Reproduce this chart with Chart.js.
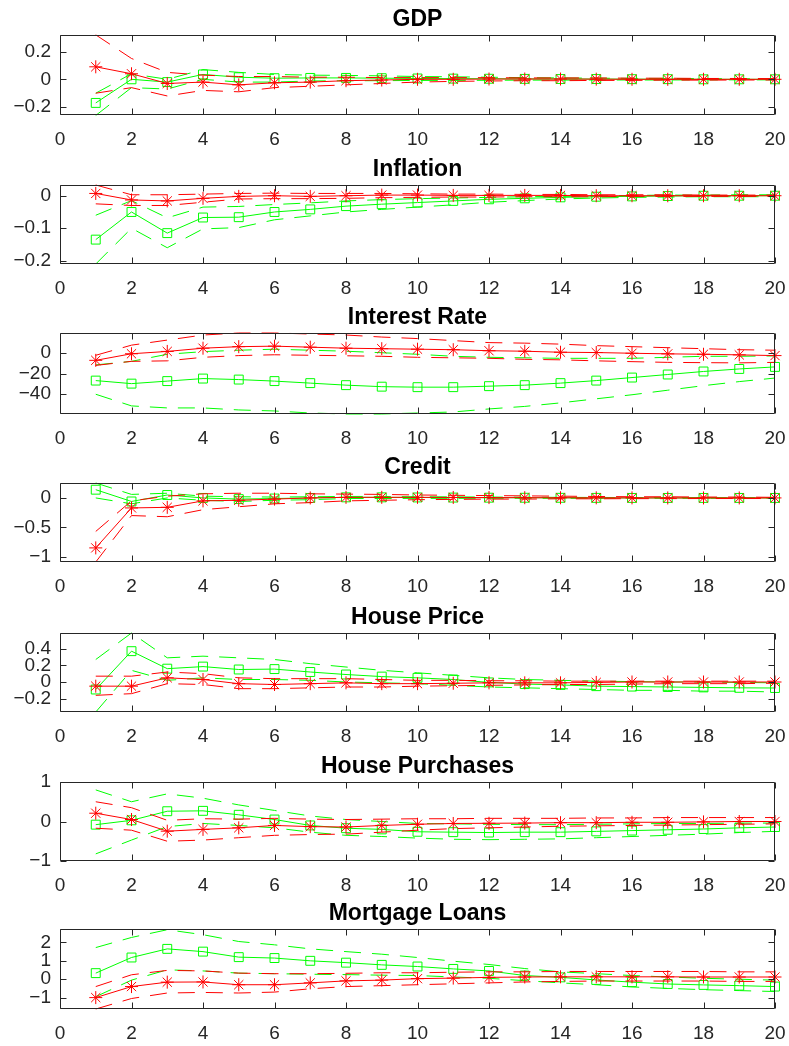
<!DOCTYPE html>
<html>
<head>
<meta charset="utf-8">
<script src="https://cdn.jsdelivr.net/npm/chart.js@4.4.1/dist/chart.umd.min.js"></script>
<style>
  html, body { margin: 0; padding: 0; background: #ffffff; }
  #fig { position: relative; width: 789px; height: 1046px; overflow: hidden; }
  #fig canvas { position: absolute; left: 0; }
</style>
</head>
<body>
<div id="fig"></div>
<script>
// Horizons and tick labels shared by every panel
const steps = [1, 2, 3, 4, 5, 6, 7, 8, 9, 10, 11, 12, 13, 14, 15, 16, 17, 18, 19, 20];
const xTicks = [0, 2, 4, 6, 8, 10, 12, 14, 16, 18, 20];

// GDP
const gdpRed     = [0.09, 0.04, -0.03, -0.02, -0.04, -0.025, -0.02, -0.01, -0.005, 0, 0, 0.002, 0.002, 0.002, 0.001, 0, 0, 0, 0, 0];
const gdpRedUp   = [0.32, 0.15, 0.05, 0.03, 0.02, 0.02, 0.015, 0.015, 0.012, 0.012, 0.012, 0.012, 0.01, 0.01, 0.01, 0.008, 0.008, 0.006, 0.006, 0.005];
const gdpRedLo   = [-0.1, -0.06, -0.12, -0.08, -0.09, -0.06, -0.05, -0.04, -0.03, -0.02, -0.015, -0.012, -0.01, -0.01, -0.008, -0.008, -0.006, -0.006, -0.005, -0.005];
const gdpGreen   = [-0.17, 0.0, -0.02, 0.035, 0.015, 0.008, 0.01, 0.01, 0.008, 0.006, 0.005, 0.004, 0.003, 0.002, 0.002, 0.001, 0.001, 0, 0, 0];
const gdpGreenUp = [-0.1, 0.04, 0.0, 0.07, 0.05, 0.035, 0.03, 0.028, 0.025, 0.02, 0.018, 0.015, 0.012, 0.01, 0.008, 0.007, 0.006, 0.005, 0.004, 0.004];
const gdpGreenLo = [-0.26, -0.06, -0.07, 0.0, -0.02, -0.02, -0.012, -0.01, -0.01, -0.008, -0.008, -0.007, -0.006, -0.006, -0.005, -0.005, -0.005, -0.004, -0.004, -0.004];
const gdpTicks   = [-0.2, 0, 0.2];

// Inflation
const infRed     = [0.007, -0.013, -0.016, -0.008, -0.002, 0.0, -0.002, 0.0, 0.002, 0.002, 0.001, 0.001, 0.001, 0.001, 0, 0, 0, 0, 0, 0];
const infRedUp   = [0.033, 0.003, 0.003, 0.005, 0.007, 0.008, 0.007, 0.007, 0.007, 0.006, 0.005, 0.005, 0.004, 0.004, 0.003, 0.003, 0.003, 0.002, 0.002, 0.002];
const infRedLo   = [-0.025, -0.03, -0.03, -0.02, -0.01, -0.009, -0.009, -0.008, -0.006, -0.005, -0.004, -0.004, -0.003, -0.003, -0.003, -0.002, -0.002, -0.002, -0.002, -0.002];
const infGreen   = [-0.135, -0.05, -0.115, -0.067, -0.066, -0.05, -0.042, -0.032, -0.026, -0.021, -0.016, -0.011, -0.008, -0.005, -0.003, -0.002, -0.001, 0, 0, 0];
const infGreenUp = [-0.06, -0.015, -0.068, -0.035, -0.033, -0.027, -0.022, -0.016, -0.012, -0.009, -0.007, -0.005, -0.003, -0.002, -0.001, 0.001, 0.002, 0.002, 0.003, 0.003];
const infGreenLo = [-0.21, -0.1, -0.16, -0.102, -0.098, -0.074, -0.062, -0.05, -0.042, -0.035, -0.028, -0.02, -0.015, -0.01, -0.007, -0.005, -0.004, -0.003, -0.003, -0.003];
const infTicks   = [-0.2, -0.1, 0];

// Interest Rate
const irRed      = [-7, -0.5, 1.8, 5, 6.5, 7, 6, 5, 4.5, 4, 3.5, 2.5, 2, 1, 0.7, 0, -0.6, -1, -1.6, -2.3];
const irRedUp    = [-2, 8, 13, 18, 20, 20, 19, 18, 16, 14.5, 12.5, 10.5, 10, 9, 7.5, 6.5, 5.5, 4.5, 3.5, 3];
const irRedLo    = [-12, -8, -7.5, -4, -2.3, -1.5, -2, -2.5, -3, -4, -4.5, -5, -6, -6.5, -7.5, -8.3, -9, -9.3, -9.5, -9];
const irGreen    = [-27, -30, -27.5, -25, -26, -27.5, -29.5, -31.5, -33, -33.5, -33.5, -32.5, -31.5, -29.5, -27, -24, -21, -18, -15.5, -13.5];
const irGreenUp  = [-11.5, -8, -1, 1.6, 3, 4, 3, 2, 0.5, -1, -3, -4, -4.5, -5, -5, -5, -4, -3, -3, -2.6];
const irGreenLo  = [-40.5, -52, -54, -54, -56, -57, -59, -60, -60, -59, -58, -55, -52.5, -49, -45, -41, -36.5, -32, -28, -24.5];
const irTicks    = [-40, -20, 0];

// Credit
const crRed      = [-0.85, -0.17, -0.16, -0.05, -0.04, -0.02, 0.0, 0.01, 0.01, 0.01, 0.008, 0.006, 0.004, 0.003, 0.002, 0.001, 0, 0, 0, 0];
const crRedUp    = [-0.57, -0.05, 0.03, 0.07, 0.08, 0.08, 0.07, 0.065, 0.06, 0.05, 0.045, 0.04, 0.035, 0.03, 0.025, 0.02, 0.02, 0.015, 0.015, 0.01];
const crRedLo    = [-1.09, -0.3, -0.32, -0.2, -0.15, -0.1, -0.08, -0.05, -0.04, -0.03, -0.025, -0.02, -0.02, -0.015, -0.015, -0.012, -0.012, -0.01, -0.01, -0.01];
const crGreen    = [0.14, -0.06, 0.05, 0.0, -0.02, -0.01, 0.0, 0.01, 0.01, 0.008, 0.006, 0.004, 0.003, 0.002, 0.001, 0, 0, 0, 0, 0];
const crGreenUp  = [0.254, 0.06, 0.08, 0.03, 0.02, 0.015, 0.02, 0.025, 0.025, 0.02, 0.018, 0.015, 0.012, 0.01, 0.008, 0.007, 0.006, 0.005, 0.004, 0.004];
const crGreenLo  = [0.0, -0.1, 0.0, -0.04, -0.06, -0.04, -0.03, -0.01, -0.01, -0.008, -0.007, -0.007, -0.006, -0.006, -0.005, -0.005, -0.005, -0.004, -0.004, -0.004];
const crTicks    = [-1, -0.5, 0];

// House Price
const hpRed      = [-0.05, -0.05, 0.05, 0.03, -0.02, -0.03, -0.02, -0.01, -0.02, -0.02, -0.015, -0.01, -0.01, -0.01, -0.005, 0, 0, 0, 0, 0];
const hpRedUp    = [0.07, 0.07, 0.12, 0.1, 0.05, 0.04, 0.04, 0.04, 0.03, 0.02, 0.02, 0.015, 0.015, 0.01, 0.01, 0.01, 0.01, 0.01, 0.01, 0.01];
const hpRedLo    = [-0.16, -0.14, -0.02, -0.03, -0.08, -0.08, -0.07, -0.06, -0.06, -0.05, -0.045, -0.04, -0.035, -0.03, -0.03, -0.025, -0.02, -0.02, -0.02, -0.015];
const hpGreen    = [-0.09, 0.37, 0.16, 0.185, 0.15, 0.155, 0.12, 0.09, 0.065, 0.05, 0.03, -0.005, -0.025, -0.035, -0.05, -0.055, -0.06, -0.065, -0.07, -0.072];
const hpGreenUp  = [0.27, 0.588, 0.29, 0.31, 0.29, 0.27, 0.22, 0.18, 0.14, 0.11, 0.08, 0.05, 0.03, 0.02, 0.01, 0.005, 0, 0, -0.005, -0.01];
const hpGreenLo  = [-0.36, 0.14, 0.02, 0.05, 0.03, 0.03, 0.02, 0.0, -0.01, -0.02, -0.04, -0.06, -0.07, -0.08, -0.09, -0.1, -0.1, -0.11, -0.11, -0.12];
const hpTicks    = [-0.2, 0, 0.2, 0.4];

// House Purchases
const puRed      = [0.21, 0.05, -0.245, -0.2, -0.16, -0.1, -0.13, -0.14, -0.1, -0.07, -0.05, -0.045, -0.04, -0.03, -0.03, -0.02, -0.02, -0.01, 0, 0];
const puRedUp    = [0.5, 0.35, 0.03, 0.07, 0.06, 0.08, 0.06, 0.05, 0.06, 0.07, 0.07, 0.08, 0.08, 0.08, 0.09, 0.09, 0.1, 0.1, 0.1, 0.1];
const puRedLo    = [-0.17, -0.22, -0.5, -0.47, -0.41, -0.35, -0.33, -0.32, -0.27, -0.22, -0.18, -0.16, -0.14, -0.12, -0.11, -0.1, -0.09, -0.08, -0.07, -0.06];
const puGreen    = [-0.08, 0.03, 0.26, 0.27, 0.17, 0.05, -0.1, -0.17, -0.2, -0.26, -0.27, -0.28, -0.27, -0.27, -0.25, -0.23, -0.21, -0.19, -0.16, -0.14];
const puGreenUp  = [0.8, 0.5, 0.7, 0.59, 0.42, 0.28, 0.14, 0.05, 0.0, -0.05, -0.06, -0.07, -0.08, -0.08, -0.07, -0.06, -0.05, -0.05, -0.04, -0.04];
const puGreenLo  = [-0.82, -0.47, -0.13, -0.05, -0.1, -0.16, -0.27, -0.35, -0.38, -0.42, -0.45, -0.46, -0.45, -0.44, -0.41, -0.38, -0.35, -0.32, -0.28, -0.25];
const puTicks    = [-1, 0, 1];

// Mortgage Loans
const mlRed      = [-1.0, -0.4, -0.16, -0.15, -0.3, -0.3, -0.2, -0.09, -0.05, 0.03, 0.06, 0.1, 0.12, 0.13, 0.13, 0.13, 0.13, 0.12, 0.12, 0.12];
const mlRedUp    = [-0.4, 0.24, 0.48, 0.45, 0.33, 0.3, 0.3, 0.32, 0.35, 0.35, 0.38, 0.4, 0.4, 0.42, 0.42, 0.42, 0.42, 0.42, 0.4, 0.4];
const mlRedLo    = [-1.62, -1.05, -0.75, -0.72, -0.75, -0.7, -0.52, -0.4, -0.35, -0.3, -0.25, -0.2, -0.15, -0.12, -0.1, -0.1, -0.1, -0.1, -0.12, -0.12];
const mlGreen    = [0.33, 1.18, 1.65, 1.5, 1.2, 1.15, 1.0, 0.9, 0.78, 0.69, 0.56, 0.45, 0.2, 0.1, -0.04, -0.16, -0.26, -0.31, -0.35, -0.4];
const mlGreenUp  = [1.72, 2.27, 2.69, 2.42, 2.05, 1.87, 1.65, 1.5, 1.36, 1.18, 0.98, 0.8, 0.58, 0.4, 0.3, 0.2, 0.12, 0.05, 0.0, -0.05];
const mlGreenLo  = [-0.95, -0.05, 0.51, 0.45, 0.33, 0.3, 0.27, 0.25, 0.22, 0.2, 0.12, 0.05, -0.08, -0.2, -0.3, -0.42, -0.5, -0.57, -0.62, -0.67];
const mlTicks    = [-1, 0, 1, 2];

// Panel titles and y limits
const titles  = ['GDP', 'Inflation', 'Interest Rate', 'Credit', 'House Price', 'House Purchases', 'Mortgage Loans'];
const yMins   = [-0.257, -0.21, -60, -1.09, -0.36, -1, -1.62];
const yMaxs   = [0.319, 0.033, 20, 0.254, 0.588, 1, 2.73];

const panelData = [
  [gdpRed, gdpRedUp, gdpRedLo, gdpGreen, gdpGreenUp, gdpGreenLo, gdpTicks],
  [infRed, infRedUp, infRedLo, infGreen, infGreenUp, infGreenLo, infTicks],
  [irRed, irRedUp, irRedLo, irGreen, irGreenUp, irGreenLo, irTicks],
  [crRed, crRedUp, crRedLo, crGreen, crGreenUp, crGreenLo, crTicks],
  [hpRed, hpRedUp, hpRedLo, hpGreen, hpGreenUp, hpGreenLo, hpTicks],
  [puRed, puRedUp, puRedLo, puGreen, puGreenUp, puGreenLo, puTicks],
  [mlRed, mlRedUp, mlRedLo, mlGreen, mlGreenUp, mlGreenLo, mlTicks]
];

// Layout of the stacked axes (page pixels)
const plotTops    = [35, 185, 333, 483, 633, 782, 929];
const plotHeights = [80, 79, 81, 79, 79, 79, 80];
const ABOVE = 35, BELOW = 36, AXIS_LEFT = 60, RIGHT_PAD = 14, TICK_LEN = 6;
const INK = '#262626';
const RED = '#ff0000', GREEN = '#00ff00';
const DASH = [17, 11];

// Axes box with inward ticks on all four sides
const boxTicks = {
  id: 'boxTicks',
  afterDraw(chart) {
    const { ctx, chartArea: a, scales: { x, y } } = chart;
    const L = Math.round(a.left) + 0.5, R = Math.round(a.right) - 0.5;
    const T = Math.round(a.top) + 0.5, B = Math.round(a.bottom) - 0.5;
    ctx.save();
    ctx.strokeStyle = INK;
    ctx.lineWidth = 1;
    ctx.beginPath();
    ctx.rect(L, T, R - L, B - T);
    x.ticks.forEach(t => {
      const px = Math.round(x.getPixelForValue(t.value)) + 0.5;
      ctx.moveTo(px, B); ctx.lineTo(px, B - TICK_LEN);
      ctx.moveTo(px, T); ctx.lineTo(px, T + TICK_LEN);
    });
    y.ticks.forEach(t => {
      const py = Math.round(y.getPixelForValue(t.value)) + 0.5;
      ctx.moveTo(L, py); ctx.lineTo(L + TICK_LEN, py);
      ctx.moveTo(R, py); ctx.lineTo(R - TICK_LEN, py);
    });
    ctx.stroke();
    ctx.restore();
  }
};

const fmt = v => {
  const s = String(Math.abs(v));
  return v < 0 ? '\u2212' + s : s;
};

const pts = arr => steps.map((s, i) => ({ x: s, y: arr[i] }));

function band(arr, color) {
  return {
    data: pts(arr), borderColor: color, borderWidth: 1, borderDash: DASH,
    pointRadius: 0, fill: false, tension: 0, clip: false
  };
}
function median(arr, color, style, radius) {
  return {
    data: pts(arr), borderColor: color, borderWidth: 1, tension: 0, fill: false,
    pointStyle: style, pointRadius: radius, pointBorderColor: color,
    pointBackgroundColor: 'rgba(0,0,0,0)', pointBorderWidth: 1, clip: false
  };
}

const fig = document.getElementById('fig');
const tickFont = { family: '"Liberation Sans", Arial, Helvetica, sans-serif', size: 19 };

panelData.forEach((p, i) => {
  const [red, redUp, redLo, green, greenUp, greenLo, yTicks] = p;
  const canvas = document.createElement('canvas');
  const h = ABOVE + plotHeights[i] + BELOW;
  canvas.width = 789;
  canvas.height = h;
  canvas.style.top = (plotTops[i] - ABOVE) + 'px';
  canvas.style.width = '789px';
  canvas.style.height = h + 'px';
  fig.appendChild(canvas);

  new Chart(canvas, {
    type: 'line',
    data: {
      datasets: [
        // red drawn on top of green
        median(red, RED, 'star', 6.5),
        band(redUp, RED),
        band(redLo, RED),
        median(green, GREEN, 'rect', 6.3),
        band(greenUp, GREEN),
        band(greenLo, GREEN)
      ]
    },
    options: {
      responsive: false,
      animation: false,
      events: [],
      layout: { padding: { left: 0, right: RIGHT_PAD, top: 0, bottom: 0 } },
      plugins: {
        legend: { display: false },
        tooltip: { enabled: false },
        title: {
          display: true,
          text: titles[i],
          fullSize: false,
          color: '#000000',
          font: { family: '"Liberation Sans", Arial, Helvetica, sans-serif', size: 23, weight: 'bold', lineHeight: 1.2 },
          padding: { top: ABOVE - 27.6 - 1.2, bottom: 1.2 }
        }
      },
      scales: {
        x: {
          type: 'linear', min: 0, max: 20,
          afterBuildTicks: s => { s.ticks = xTicks.map(v => ({ value: v })); },
          afterFit: s => { s.height = BELOW; },
          // hidden tick marks only reserve the gap between axis and labels
          grid: { display: false, drawTicks: true, tickLength: 13 },
          border: { display: false },
          ticks: { font: tickFont, color: INK, padding: 0, maxRotation: 0, autoSkip: false, callback: v => fmt(v) }
        },
        y: {
          type: 'linear', min: yMins[i], max: yMaxs[i],
          afterBuildTicks: s => { s.ticks = yTicks.map(v => ({ value: v })); },
          afterFit: s => { s.width = AXIS_LEFT; },
          grid: { display: false, drawTicks: true, tickLength: 9 },
          border: { display: false },
          ticks: { font: tickFont, color: INK, padding: 0, autoSkip: false, callback: v => fmt(v) }
        }
      }
    },
    plugins: [boxTicks]
  });
});
</script>
</body>
</html>
